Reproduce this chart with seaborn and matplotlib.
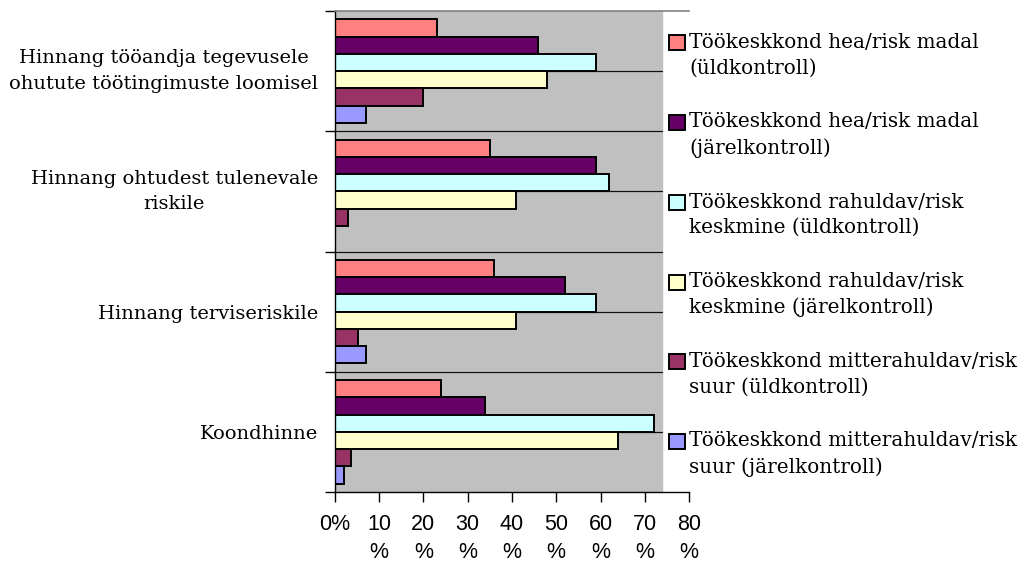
import numpy as np
import pandas as pd
import matplotlib
matplotlib.use("Agg")
import matplotlib.pyplot as plt
from matplotlib.patches import Rectangle
from matplotlib.legend_handler import HandlerPatch
import seaborn as sns

# data (percent)
categories = ["Hinnang tööandja tegevusele\nohutute töötingimuste loomisel",
              "Hinnang ohtudest tulenevale\nriskile",
              "Hinnang terviseriskile",
              "Koondhinne"]
series = ["Töökeskkond hea/risk madal\n(üldkontroll)",
          "Töökeskkond hea/risk madal\n(järelkontroll)",
          "Töökeskkond rahuldav/risk\nkeskmine (üldkontroll)",
          "Töökeskkond rahuldav/risk\nkeskmine (järelkontroll)",
          "Töökeskkond mitterahuldav/risk\nsuur (üldkontroll)",
          "Töökeskkond mitterahuldav/risk\nsuur (järelkontroll)"]
hea_yld = [23, 35, 36, 24]
hea_jarel = [46, 59, 52, 34]
rahuldav_yld = [59, 62, 59, 72]
rahuldav_jarel = [48, 41, 41, 64]
mitte_yld = [20, 3, 5.3, 3.6]
mitte_jarel = [7, 0, 7, 2]
colors = ["#FF8080", "#660066", "#CCFFFF", "#FFFFCC", "#993366", "#9999FF"]
xticks = [0, 10, 20, 30, 40, 50, 60, 70, 80]
xticklabels = ["0%"] + [f"{t}\n%" for t in xticks[1:]]

values = [hea_yld, hea_jarel, rahuldav_yld, rahuldav_jarel, mitte_yld, mitte_jarel]
rows = []
for s, vals in zip(series, values):
    for c, v in zip(categories, vals):
        rows.append({"kategooria": c, "seeria": s, "protsent": v})
df = pd.DataFrame(rows)

sns.set_style("white")
plt.rcParams["font.family"] = ["DejaVu Serif"]
plt.rcParams["text.color"] = "black"
plt.rcParams["xtick.color"] = "black"
plt.rcParams["ytick.color"] = "black"

fig = plt.figure(figsize=(10.28, 5.61), dpi=100)
ax = fig.add_axes([334.7 / 1028, 1 - 492 / 561, 354.4 / 1028, 481 / 561])

# plot area (gray part is cut off by the legend at ~73.8 %)
plot_right = 73.8
ax.set_facecolor("white")
ax.axvspan(0, plot_right, color="#C0C0C0", zorder=0)

sns.barplot(data=df, y="kategooria", x="protsent", hue="seeria",
            order=categories, hue_order=series, palette=colors,
            orient="h", width=0.86, gap=0, edgecolor="black", linewidth=1.4,
            saturation=1, ax=ax, zorder=2)
handles, labels = ax.get_legend_handles_labels()
if ax.get_legend() is not None:
    ax.get_legend().remove()

ax.set_xlim(0, 80)
ax.set_ylim(len(categories) - 0.5, -0.5)

# horizontal grid lines at group centres and boundaries
for y in np.arange(0, len(categories) - 0.5, 0.5):
    ax.axhline(y, xmin=0, xmax=plot_right / 80, color="#111111", lw=0.9, zorder=1)

ax.set_xticks(xticks)
ax.set_xticklabels(xticklabels, family="Liberation Sans", fontsize=15.5, linespacing=1.42)
ax.tick_params(axis="x", direction="out", length=7, width=1, color="black", pad=9,
               bottom=True)
ax.set_yticks(range(len(categories)))
ax.set_yticklabels(categories, fontsize=14, linespacing=1.55)
ax.set_yticks(np.arange(-0.5, len(categories)), minor=True)
ax.tick_params(axis="y", which="major", length=0, pad=12)
ax.tick_params(axis="y", which="minor", direction="out", length=7, width=1,
               color="black", left=True)
for lbl in ax.get_yticklabels():
    lbl.set_multialignment("center")
    if "\n" in lbl.get_text():
        lbl.set_verticalalignment("center")
ax.set_xlabel("")
ax.set_ylabel("")

for side in ["left", "bottom"]:
    ax.spines[side].set_color("black")
    ax.spines[side].set_linewidth(1)
ax.spines["top"].set_color("#808080")
ax.spines["top"].set_linewidth(1.2)
ax.spines["right"].set_visible(False)


def square_first_line(legend, orig_handle, xdescent, ydescent, width, height, fontsize):
    # put the colour square next to the first text line
    return Rectangle((-xdescent, -ydescent + 0.64 * fontsize), width, height)


leg = fig.legend(handles, labels, loc="upper left",
                 bbox_to_anchor=(661 / 1028, 1 - 25 / 561),
                 frameon=False, fontsize=14.4, handlelength=0.78, handleheight=0.78,
                 handletextpad=0.22, labelspacing=1.75, borderaxespad=0,
                 handler_map={Rectangle: HandlerPatch(patch_func=square_first_line)})
for t in leg.get_texts():
    t.set_linespacing(1.42)

fig.savefig("out.png", dpi=100)
